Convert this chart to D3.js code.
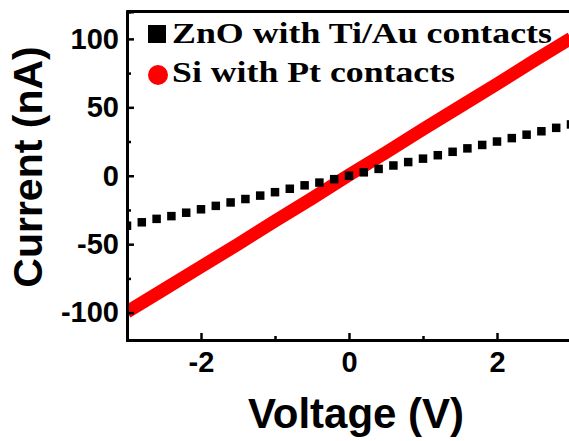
<!DOCTYPE html>
<html>
<head>
<meta charset="utf-8">
<script src="https://cdnjs.cloudflare.com/ajax/libs/d3/7.8.5/d3.min.js"></script>
<style>
	body { margin: 0; background: #fff; }
	svg { display: block; }
</style>
</head>
<body>
<div id="chart"></div>
<script>
// voltage sweep (V) for the ZnO device
var znoVoltage = [-3, -2.8, -2.6, -2.4, -2.2, -2, -1.8, -1.6, -1.4, -1.2, -1,
	-0.8, -0.6, -0.4, -0.2, 0, 0.2, 0.4, 0.6, 0.8, 1, 1.2, 1.4, 1.6, 1.8, 2,
	2.2, 2.4, 2.6, 2.8, 3];
// current (nA) for ZnO with Ti/Au contacts
var znoCurrent = [-36.5, -34, -31.5, -29.5, -27, -24.5, -22, -19.5, -17, -14.5, -12,
	-9.5, -7, -5, -2.5, 0, 2.5, 5, 7.5, 10, 12.5, 15, 17.5, 20, 22.5, 25,
	27.5, 30, 32.5, 35, 37.5];

// Si with Pt contacts
var siVoltage = [-3, -2.5, -2, -1.5, -1, -0.5, 0, 0.5, 1, 1.5, 2, 2.5, 3];
var siCurrent = [-99.5, -83, -66.5, -50, -33, -16.5, 0.5, 17, 34, 50.5, 67, 84, 100.5];

var xTicks = [-2, 0, 2];
var xMinor = [-3, -1, 1, 3];
var yTicks = [-100, -50, 0, 50, 100];
var yMinor = [-75, -25, 25, 75];

var legendNames = ["ZnO with Ti/Au contacts", "Si with Pt contacts"];

function init(){
	var w = 569;
	var h = 441;

	var left = 127, right = 571, top = 11.5, bottom = 340;

	var x = d3.scaleLinear()
				.domain([-3, 3])
				.range([left, right]);

	var y = d3.scaleLinear()
				.domain([-120, 120])
				.range([bottom, top]);

	var svg = d3.select("#chart")
				.append("svg")
				.attr("width", w)
				.attr("height", h);

	svg.append("clipPath")
		.attr("id", "plotclip")
		.append("rect")
		.attr("x", left)
		.attr("y", top)
		.attr("width", right - left)
		.attr("height", bottom - top);

	var plot = svg.append("g")
				.attr("clip-path", "url(#plotclip)");

	//red Si line
	var line = d3.line()
				.x(function(d, i){ return x(siVoltage[i]); })
				.y(function(d){ return y(d); });

	plot.append("path")
		.datum(siCurrent)
		.attr("d", line)
		.attr("fill", "none")
		.attr("stroke", "#ff0000")
		.attr("stroke-width", 13);

	//black squares for ZnO
	var s = 8.5;
	plot.selectAll("rect.zno")
		.data(znoCurrent)
		.enter()
		.append("rect")
		.attr("class", "zno")
		.attr("x", function(d, i){ return x(znoVoltage[i]) - s/2; })
		.attr("y", function(d){ return y(d) - s/2; })
		.attr("width", s)
		.attr("height", s)
		.attr("fill", "#000");

	//plain hyphen for negative labels, like the original
	var fmt = function(d){ return String(d); };

	//axes, ticks pointing inward
	var xAxis = d3.axisBottom(x)
				.tickValues(xTicks)
				.tickSize(-7)
				.tickPadding(11)
				.tickFormat(fmt);

	var yAxis = d3.axisLeft(y)
				.tickValues(yTicks)
				.tickSize(-7)
				.tickPadding(8)
				.tickFormat(fmt);

	var gx = svg.append("g")
				.attr("transform", "translate(0," + bottom + ")")
				.call(xAxis);

	var gy = svg.append("g")
				.attr("transform", "translate(" + left + ",0)")
				.call(yAxis);

	svg.append("g")
		.attr("transform", "translate(0," + bottom + ")")
		.call(d3.axisBottom(x).tickValues(xMinor).tickSize(-4).tickFormat(""));

	svg.append("g")
		.attr("transform", "translate(" + left + ",0)")
		.call(d3.axisLeft(y).tickValues(yMinor).tickSize(-4).tickFormat(""));

	svg.selectAll(".domain")
		.attr("stroke", "#000")
		.attr("stroke-width", 3);
	svg.selectAll(".tick line")
		.attr("stroke", "#000")
		.attr("stroke-width", 2.5);

	[gx, gy].forEach(function(g){
		g.selectAll("text")
			.attr("fill", "#000")
			.style("font-family", "'Liberation Sans', Arial, sans-serif")
			.style("font-weight", "bold")
			.style("font-size", "29px");
	});

	//top border
	svg.append("line")
		.attr("x1", left)
		.attr("x2", right)
		.attr("y1", top)
		.attr("y2", top)
		.attr("stroke", "#000")
		.attr("stroke-width", 3);

	//axis titles
	svg.append("text")
		.text("Voltage (V)")
		.attr("x", 356)
		.attr("y", 428)
		.attr("text-anchor", "middle")
		.style("font-family", "'Liberation Sans', Arial, sans-serif")
		.style("font-weight", "bold")
		.style("font-size", "42px");

	svg.append("text")
		.text("Current (nA)")
		.attr("transform", "translate(42,167) rotate(-90)")
		.attr("text-anchor", "middle")
		.style("font-family", "'Liberation Sans', Arial, sans-serif")
		.style("font-weight", "bold")
		.style("font-size", "41px");

	//legend
	svg.append("rect")
		.attr("x", 148)
		.attr("y", 25)
		.attr("width", 18)
		.attr("height", 18)
		.attr("fill", "#000");

	svg.append("circle")
		.attr("cx", 158)
		.attr("cy", 75)
		.attr("r", 10)
		.attr("fill", "#ff0000");

	var legendLen = [380, 283];
	svg.selectAll("text.legend")
		.data(legendNames)
		.enter()
		.append("text")
		.attr("class", "legend")
		.text(function(d){ return d; })
		.attr("x", 172)
		.attr("y", function(d, i){ return 43 + i * 39; })
		.attr("textLength", function(d, i){ return legendLen[i]; })
		.attr("lengthAdjust", "spacingAndGlyphs")
		.style("font-family", "'Liberation Serif', 'Times New Roman', serif")
		.style("font-weight", "bold")
		.style("font-size", "30px");
}

window.onload = init;
</script>
</body>
</html>
